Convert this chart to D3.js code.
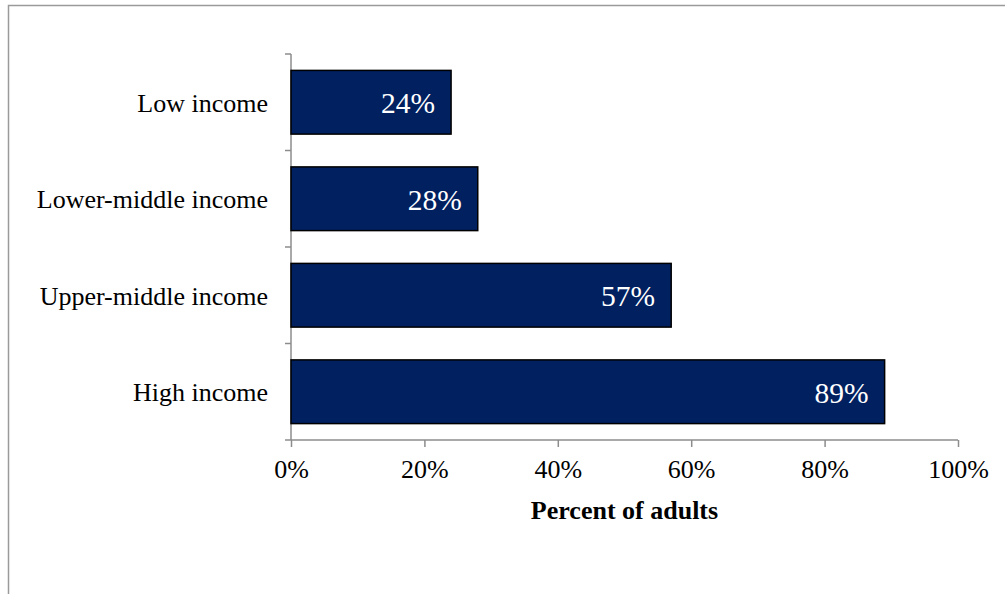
<!DOCTYPE html>
<html>
<head>
<meta charset="utf-8">
<script src="https://cdn.jsdelivr.net/npm/d3@7"></script>
<style>
  html, body { margin: 0; padding: 0; background: #fff; }
  svg { display: block; font-family: "Liberation Serif", "Times New Roman", serif; }
</style>
</head>
<body>
<svg id="chart" width="1005" height="594"></svg>
<script>
// Share of adults by country income group
const categories = ["Low income", "Lower-middle income", "Upper-middle income", "High income"];
const values = [24, 28, 57, 89];
const xTicks = [0, 20, 40, 60, 80, 100];
const xTitle = "Percent of adults";

const svg = d3.select("#chart");
const W = 1005, H = 594;
const m = { left: 291, right: 958, top: 54, bottom: 440 };

// chart area frame
svg.append("rect")
  .attr("x", 8.5).attr("y", 5.5)
  .attr("width", W + 10).attr("height", H + 10)
  .attr("fill", "none").attr("stroke", "#9a9a9a").attr("stroke-width", 1.5);

const x = d3.scaleLinear().domain([0, 100]).range([m.left, m.right]);
const y = d3.scaleBand().domain(categories).range([m.top, m.bottom])
  .paddingInner(0.34).paddingOuter(0.17);

// category axis: line plus ticks on band boundaries
const gy = svg.append("g");
gy.append("line")
  .attr("x1", m.left).attr("x2", m.left)
  .attr("y1", m.top).attr("y2", m.bottom)
  .attr("stroke", "#8c8c8c").attr("stroke-width", 1.5);
const step = y.step();
const bounds = d3.range(categories.length + 1).map(i => m.top + i * step);
gy.selectAll("line.tick").data(bounds).join("line")
  .attr("class", "tick")
  .attr("x1", m.left - 6).attr("x2", m.left)
  .attr("y1", d => d).attr("y2", d => d)
  .attr("stroke", "#8c8c8c").attr("stroke-width", 1.5);
gy.selectAll("text").data(categories).join("text")
  .attr("x", 268)
  .attr("y", d => y(d) - (y.step() - y.bandwidth()) / 2 + step / 2)
  .attr("dy", "0.36em")
  .attr("text-anchor", "end")
  .attr("font-size", 26)
  .attr("fill", "#000")
  .text(d => d);

// value axis
const xAxis = d3.axisBottom(x)
  .tickValues(xTicks)
  .tickSize(7)
  .tickPadding(13)
  .tickFormat(d => d + "%");
const gx = svg.append("g")
  .attr("transform", `translate(0,${m.bottom})`)
  .call(xAxis);
gx.select(".domain").attr("stroke", "#8c8c8c").attr("stroke-width", 1.5)
  .attr("d", `M${m.left},0H${m.right}`);
gx.selectAll(".tick line").attr("stroke", "#8c8c8c").attr("stroke-width", 1.5);
gx.selectAll(".tick text")
  .attr("font-family", "Liberation Serif, Times New Roman, serif")
  .attr("font-size", 26).attr("fill", "#000");

svg.append("text")
  .attr("x", (m.left + m.right) / 2).attr("y", 519)
  .attr("text-anchor", "middle")
  .attr("font-size", 26).attr("font-weight", "bold")
  .text(xTitle);

// bars
const data = categories.map((c, i) => ({ c, v: values[i] }));
svg.append("g").selectAll("rect").data(data).join("rect")
  .attr("x", x(0))
  .attr("y", d => y(d.c))
  .attr("width", d => x(d.v) - x(0))
  .attr("height", y.bandwidth())
  .attr("fill", "#002060")
  .attr("stroke", "#000").attr("stroke-width", 1.5);

// value labels inside bar ends
svg.append("g").selectAll("text").data(data).join("text")
  .attr("x", d => x(d.v) - 16)
  .attr("y", d => y(d.c) + y.bandwidth() / 2)
  .attr("dy", "0.38em")
  .attr("text-anchor", "end")
  .attr("font-size", 29.5)
  .attr("fill", "#fff")
  .text(d => d.v + "%");
</script>
</body>
</html>
